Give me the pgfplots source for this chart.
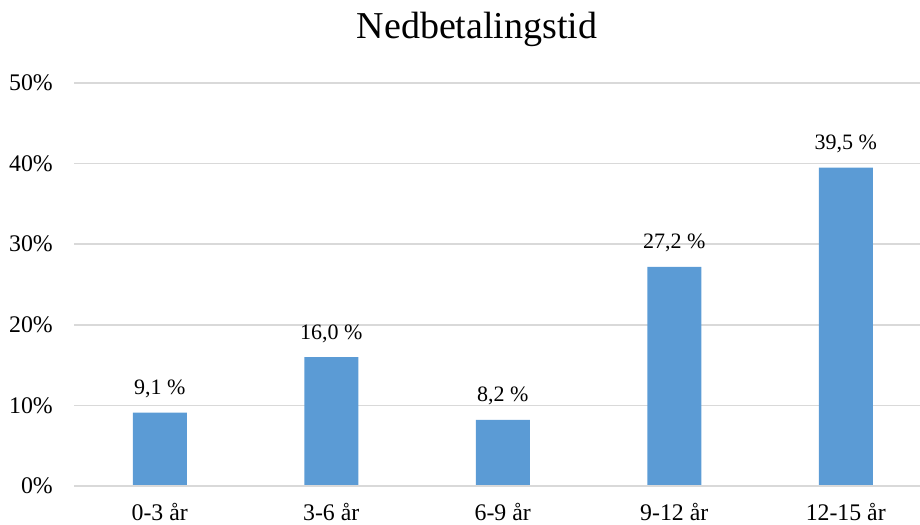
\documentclass[border=0pt]{standalone}
\usepackage{pgfplots}
\pgfplotsset{compat=1.18}
\usepackage{fontspec}
\setmainfont{Liberation Serif}
\definecolor{barblue}{HTML}{5B9BD5}
\definecolor{gridgray}{HTML}{D9D9D9}
\begin{document}
\begin{tikzpicture}[x=1bp,y=1bp]
\useasboundingbox (0,0) rectangle (920,525);
\node[font=\fontsize{38bp}{44bp}\selectfont, anchor=base] at (477,486) {Nedbetalingstid};
\begin{axis}[
  at={(74bp,39bp)}, anchor=south west,
  scale only axis, width=846bp, height=403bp,
  xmin=-0.5, xmax=4.433, ymin=0, ymax=50,
  axis line style={draw=none},
  ymajorgrids, grid style={gridgray, line width=1.5bp},
  ytick={0,10,20,30,40,50},
  yticklabel={\pgfmathprintnumber{\tick}\%},
  xtick=data,
  xticklabels={0-3 år,3-6 år,6-9 år,9-12 år,12-15 år},
  tick style={draw=none},
  /pgf/number format/assume math mode=true,
  ticklabel style={font=\fontsize{23.8bp}{28bp}\selectfont},
  yticklabel style={anchor=east, inner sep=0pt, xshift=-21bp},
  xticklabel style={anchor=base, inner sep=0pt, text depth=0pt, yshift=-35bp},
  clip=false,
  nodes near coords={\pgfmathprintnumber[fixed, precision=1, fixed zerofill, use comma]{\pgfplotspointmeta}~\%},
  nodes near coords style={font=\fontsize{22bp}{26bp}\selectfont, anchor=base, yshift=18bp, /pgf/number format/assume math mode=true},
]
\addplot[ybar, bar width=54bp, fill=barblue, draw=none] coordinates {
  (0,9.1) (1,16.0) (2,8.2) (3,27.2) (4,39.5)
};
\draw[gridgray, line width=1.5bp] (axis cs:-0.5,0) -- (axis cs:4.433,0);
\end{axis}
\end{tikzpicture}
\end{document}
